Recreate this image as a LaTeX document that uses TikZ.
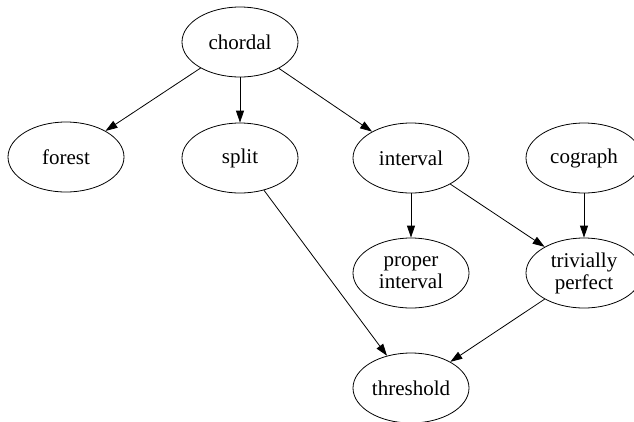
\documentclass[tikz,border=0pt]{standalone}
\usepackage{fontspec}
\setmainfont{Liberation Serif}
\usetikzlibrary{shapes.geometric,arrows.meta}

\begin{document}
\begin{tikzpicture}[x=1pt,y=-1pt,
        cls/.style={draw, ellipse, line width=0.8pt, inner sep=0pt,
            minimum width=116pt, minimum height=70pt, align=center,
            font=\fontsize{21}{22}\selectfont},
        incl/.style={line width=0.8pt, -{Triangle[length=12pt,width=8pt]}}]
        \clip (0,0) rectangle (634,421);
        % classes
        \node [cls] (chordal) at (240,42) {chordal};
        \node [cls] (forest) at (66,157) {forest};
        \node [cls] (split) at (240,158) {split};
        \node [cls] (interval) at (411,158) {interval};
        \node [cls] (cograph) at (584,158) {cograph};
        \node [cls] (proper) at (411,273) {proper\\interval};
        \node [cls] (trivial) at (584,273) {trivially\\perfect};
        \node [cls] (threshold) at (411,388) {threshold};
        % inclusions
        \draw [incl] (chordal) -- (forest);
        \draw [incl] (chordal) -- (split);
        \draw [incl] (chordal) -- (interval);
        \draw [incl] (split) -- (threshold);
        \draw [incl] (interval) -- (proper);
        \draw [incl] (interval) -- (trivial);
        \draw [incl] (cograph) -- (trivial);
        \draw [incl] (trivial) -- (threshold);
    \end{tikzpicture}
\end{document}
